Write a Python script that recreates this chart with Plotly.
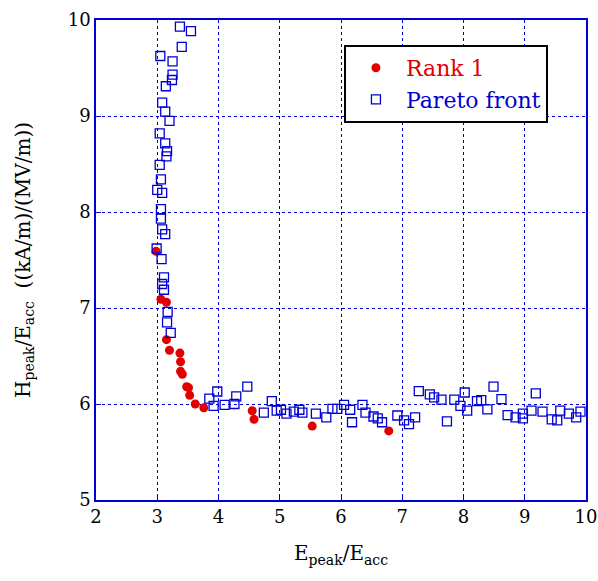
import plotly.graph_objects as go

rank1_x = [2.98, 3.06, 3.15, 3.15, 3.20, 3.37, 3.38, 3.38, 3.41, 3.48, 3.51, 3.53, 3.62, 3.76,
           4.55, 4.58, 5.53, 6.78]
rank1_y = [7.59, 7.09, 7.06, 6.67, 6.56, 6.53, 6.44, 6.34, 6.31, 6.18, 6.17, 6.09, 6.00, 5.96,
           5.93, 5.84, 5.77, 5.72]

pareto_x = [3.37, 3.55, 3.40, 3.05, 3.25, 3.25, 3.24, 3.14, 3.08, 3.13, 3.20, 3.04, 3.13, 3.16,
            3.15, 3.04, 3.06, 3.00, 3.08, 3.06, 3.06, 3.08, 3.13, 2.99, 3.07, 3.11, 3.08, 3.11,
            3.17, 3.16, 3.22, 3.98, 3.85, 3.92, 4.10, 4.26, 4.29, 4.47, 4.74, 4.87, 4.95, 5.02,
            5.11, 5.23, 5.32, 5.37, 5.59, 5.76, 5.86, 5.94, 6.05, 6.15, 6.18, 6.35, 6.40, 6.53,
            6.60, 6.67, 6.92, 7.03, 7.11, 7.21, 7.27, 7.45, 7.52, 7.64, 7.73, 7.85, 7.95, 8.02,
            8.06, 8.22, 8.29, 8.39, 8.49, 8.62, 8.72, 8.85, 8.97, 8.97, 9.11, 9.18, 9.29, 9.44,
            9.53, 9.58, 9.72, 9.84, 9.91]
pareto_y = [9.93, 9.885, 9.72, 9.625, 9.57, 9.43, 9.375, 9.31, 9.14, 9.045, 8.95, 8.82, 8.715, 8.635,
            8.58, 8.49, 8.34, 8.23, 8.20, 8.03, 7.93, 7.82, 7.77, 7.62, 7.51, 7.32, 7.25, 7.19,
            6.96, 6.85, 6.74, 6.13, 6.055, 5.98, 5.99, 6.00, 6.08, 6.18, 5.91, 6.03, 5.93, 5.94,
            5.90, 5.92, 5.94, 5.91, 5.90, 5.86, 5.95, 5.95, 5.99, 5.94, 5.81, 5.99, 5.91, 5.87,
            5.85, 5.81, 5.88, 5.83, 5.79, 5.86, 6.135, 6.10, 6.07, 6.045, 5.82, 6.045, 5.98, 6.12,
            5.93, 6.03, 6.04, 5.945, 6.18, 6.05, 5.885, 5.86, 5.90, 5.85, 5.93, 6.11, 5.92, 5.84,
            5.83, 5.93, 5.90, 5.86, 5.92]

x_ticks = [2, 3, 4, 5, 6, 7, 8, 9, 10]
y_ticks = [5, 6, 7, 8, 9, 10]

RED = "rgb(225,0,0)"
BLUE = "rgb(0,0,210)"
FONT = "DejaVu Serif, serif"

fig = go.Figure()
fig.add_trace(go.Scatter(
    x=rank1_x, y=rank1_y, mode="markers",
    name=f"<span style='color:{RED}'>Rank 1</span>",
    marker=dict(symbol="circle", size=9, color=RED, line=dict(width=0)),
))
fig.add_trace(go.Scatter(
    x=pareto_x, y=pareto_y, mode="markers",
    name=f"<span style='color:{BLUE}'>Pareto front</span>",
    marker=dict(symbol="square-open", size=9, color=BLUE, line=dict(width=1.3)),
))

axis_common = dict(
    showline=True, mirror=True, linecolor=BLUE, linewidth=1.5,
    showgrid=True, gridcolor=BLUE, griddash="dot", gridwidth=1,
    zeroline=False, ticks="inside", tickcolor=BLUE, ticklen=5,
    tickfont=dict(family=FONT, size=18, color="black"),
)

fig.update_layout(
    width=598, height=581,
    margin=dict(l=96, r=12, t=20, b=81, autoexpand=False),
    plot_bgcolor="white", paper_bgcolor="white",
    font=dict(family=FONT, color="black"),
    xaxis=dict(range=[2, 10], tickvals=x_ticks, automargin=False, **axis_common,
               title=dict(text="E<sub>peak</sub>/E<sub>acc</sub>", font=dict(family=FONT, size=20), standoff=20)),
    yaxis=dict(range=[5, 10], tickvals=y_ticks, automargin=False, **axis_common,
               title=dict(text="H<sub>peak</sub>/E<sub>acc</sub>  ((kA/m)/(MV/m))", font=dict(family=FONT, size=20), standoff=32)),
    legend=dict(x=0.506, y=0.948, xanchor="left", yanchor="top",
                bgcolor="white", bordercolor="black", borderwidth=2,
                font=dict(family=FONT, size=22), itemwidth=50,
                tracegroupgap=0),
    showlegend=True,
)

fig.write_html("out.html", config={"displayModeBar": False},
               post_script="document.body.style.margin='0';document.body.style.padding='0';")
